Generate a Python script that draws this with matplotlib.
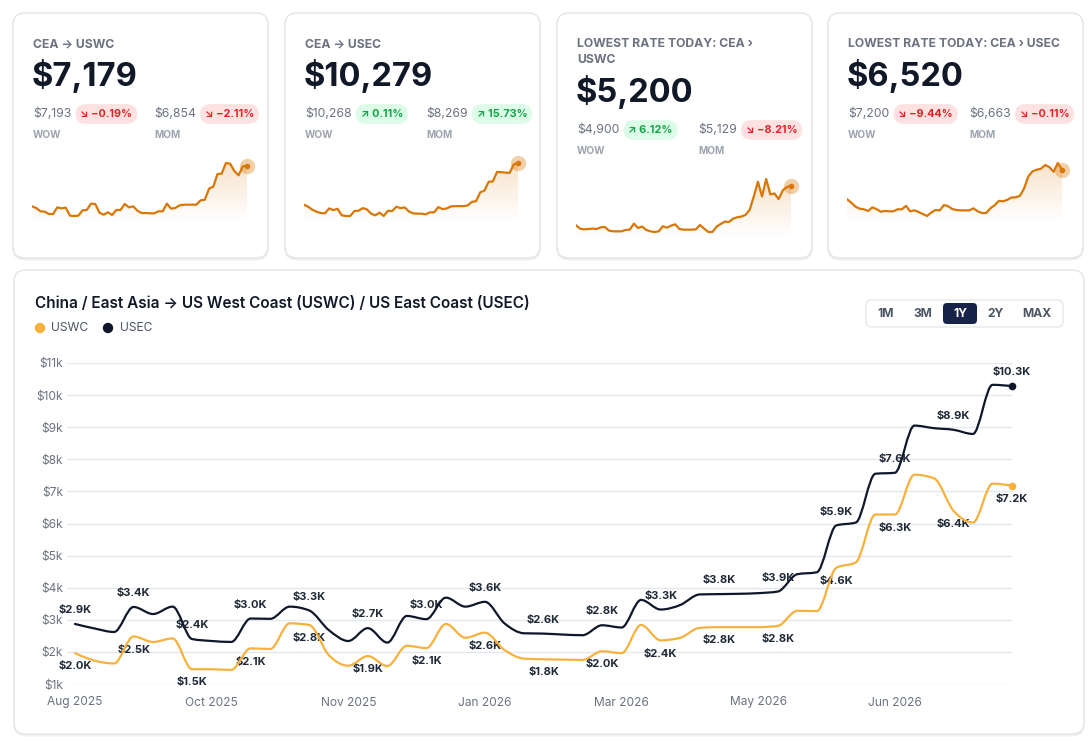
import matplotlib
matplotlib.use("Agg")
import matplotlib.pyplot as plt
import numpy as np
from matplotlib.patches import FancyBboxPatch, PathPatch, Circle
from matplotlib.path import Path
from matplotlib.colors import to_rgb

plt.rcParams["font.family"] = ["Inter", "DejaVu Sans"]

W, H = 1090, 753

# ---- KPI cards ----
card_titles = ["CEA → USWC", "CEA → USEC", "LOWEST RATE TODAY: CEA ›\nUSWC", "LOWEST RATE TODAY: CEA › USEC"]
card_values = [7179, 10279, 5200, 6520]
wow_prev = [7193, 10268, 4900, 7200]
wow_pct = [-0.19, 0.11, 6.12, -9.44]
mom_prev = [6854, 8269, 5129, 6663]
mom_pct = [-2.11, 15.73, -8.21, -0.11]

spark_uswc = [2550, 2360, 1980, 1940, 1670, 1670, 2430, 2320, 2400, 1480, 1440, 1480, 2090, 2130,
              2860, 2820, 1820, 1590, 1860, 1560, 2130, 2130, 2820, 2430, 2550, 2050, 1780, 1780,
              1750, 1750, 1980, 1980, 2860, 2280, 2360, 2660, 2740, 2740, 2740, 2740, 3240, 3310,
              4580, 4810, 6260, 6300, 7520, 7440, 6600, 6110, 7140, 7179]
spark_usec = [3990, 3690, 3240, 2940, 2750, 2700, 3440, 3190, 3390, 2400, 2300, 2300, 3040, 3090,
              3490, 3290, 2650, 2400, 2800, 2300, 3090, 3040, 3690, 3490, 3590, 2990, 2700, 2650,
              2650, 2550, 2850, 2850, 3640, 3340, 3440, 3740, 3790, 3790, 3790, 3890, 4430, 4530,
              5870, 6120, 7450, 7500, 8940, 8890, 8840, 8790, 10080, 10279]
spark_low_uswc = [2250, 2000, 1950, 1975, 2000, 1975, 2100, 2125, 1850, 1800, 1800, 1800, 1900, 1925,
                  2375, 2050, 2150, 1900, 1800, 1750, 1800, 2175, 2075, 2225, 2325, 1975, 1925, 1925,
                  1925, 1950, 2275, 2000, 1750, 1750, 2150, 2350, 2525, 2500, 2750, 2850, 2900, 3025,
                  3400, 4400, 5500, 4400, 5700, 4550, 4625, 4200, 4850, 5100, 5200]
spark_low_usec = [4060, 3780, 3440, 3270, 3220, 3080, 3380, 3240, 3020, 3080, 3050, 3050, 3220, 3220,
                  3500, 3050, 3130, 2990, 2820, 2660, 2960, 3160, 3130, 3580, 3470, 3240, 3160, 3130,
                  3130, 3130, 3300, 3050, 2910, 2910, 3300, 3550, 3920, 3890, 4000, 4200, 4220, 4340,
                  4950, 5960, 6380, 6520, 6600, 6910, 6740, 6350, 7080, 6520]
sparks = [spark_uswc, spark_usec, spark_low_uswc, spark_low_usec]

# ---- main chart (weekly points) ----
chart_title = "China / East Asia → US West Coast (USWC) / US East Coast (USEC)"
uswc = [1960, 1730, 1640, 2480, 2310, 2420, 1460, 1460, 1440, 2110, 2090, 2890, 2840, 1900,
        1570, 1870, 1560, 2190, 2120, 2870, 2440, 2600, 2060, 1790, 1770, 1760, 1750, 2020,
        1960, 2840, 2360, 2440, 2750, 2770, 2770, 2770, 2810, 3280, 3270, 4620, 4790, 6280,
        6280, 7520, 7410, 6400, 6030, 7240, 7179]
usec = [2870, 2730, 2620, 3400, 3180, 3410, 2400, 2340, 2310, 3040, 3030, 3410, 3290, 2680,
        2340, 2740, 2290, 3120, 3020, 3690, 3410, 3560, 2890, 2580, 2570, 2540, 2520, 2830,
        2760, 3620, 3320, 3460, 3790, 3800, 3810, 3830, 3880, 4420, 4480, 5940, 6030, 7550,
        7580, 9050, 8970, 8920, 8790, 10320, 10279]
tick_idx = [0, 7, 14, 21, 28, 35, 42]
tick_labels = ["Aug 2025", "Oct 2025", "Nov 2025", "Jan 2026", "Mar 2026", "May 2026", "Jun 2026"]
y_ticks = list(range(1000, 12000, 1000))
ranges = ["1M", "3M", "1Y", "2Y", "MAX"]
active_range = "1Y"

C_USWC = "#f8b13c"
C_USEC = "#0f172a"
C_SPARK = "#d97706"
GRAY = "#6b7280"


def px_axes(fig, x0, y0, x1, y1, **kw):
    return fig.add_axes([x0 / W, 1 - y1 / H, (x1 - x0) / W, (y1 - y0) / H], **kw)


def rounded(ax, x0, y0, x1, y1, r, fc, ec="none", lw=1, z=1, alpha=1):
    p = FancyBboxPatch((x0, y0), x1 - x0, y1 - y0, boxstyle=f"round,pad=0,rounding_size={r}",
                       fc=fc, ec=ec, lw=lw, zorder=z, alpha=alpha)
    ax.add_patch(p)
    return p


def card(ax, x0, y0, x1, y1):
    rounded(ax, x0 - 1, y0 + 1, x1 + 1, y1 + 2.5, 13, "#000000", z=0.5, alpha=0.06)
    rounded(ax, x0, y0, x1, y1, 12, "white", ec="#e3e5e9", lw=1, z=1)


def monotone_path(xs, ys):
    # d3-style monotone-x cubic, expressed as matplotlib Bezier segments
    xs = np.asarray(xs, float)
    ys = np.asarray(ys, float)
    h = np.diff(xs)
    s = np.diff(ys) / h
    n = len(xs)
    m = np.zeros(n)
    for i in range(1, n - 1):
        s0, s1 = s[i - 1], s[i]
        p = (s0 * h[i] + s1 * h[i - 1]) / (h[i - 1] + h[i])
        m[i] = (np.sign(s0) + np.sign(s1)) * min(abs(s0), abs(s1), 0.5 * abs(p))
    m[0] = (3 * s[0] - m[1]) / 2
    m[-1] = (3 * s[-1] - m[-2]) / 2
    verts = [(xs[0], ys[0])]
    codes = [Path.MOVETO]
    for i in range(n - 1):
        d = h[i] / 3
        verts += [(xs[i] + d, ys[i] + m[i] * d), (xs[i + 1] - d, ys[i + 1] - m[i + 1] * d),
                  (xs[i + 1], ys[i + 1])]
        codes += [Path.CURVE4] * 3
    return Path(verts, codes)


def badge_text(p):
    arrow = "↗" if p > 0 else "↘"
    sign = "−" if p < 0 else ""
    return f"{arrow} {sign}{abs(p):.2f}%"


fig = plt.figure(figsize=(W / 100, H / 100), dpi=100)
fig.patch.set_facecolor("white")
bg = fig.add_axes([0, 0, 1, 1], zorder=0)
bg.set_xlim(0, W)
bg.set_ylim(H, 0)
bg.axis("off")
renderer = fig.canvas.get_renderer()

card_lefts = [13, 285, 557, 828]
spark_boxes = [(32, 247, 163, 216), (304, 518, 163, 216), (576, 791, 179, 232), (847, 1062, 163, 216)]

for k, left in enumerate(card_lefts):
    card(bg, left, 13, left + 255, 258)
    tx = left + 20
    lines = card_titles[k].split("\n")
    for j, line in enumerate(lines):
        bg.text(tx, 47 + 16 * j, line, fontsize=8.8, fontweight="bold", color=GRAY, va="baseline")
    dy = 16 * (len(lines) - 1)
    bg.text(tx - 1, 86 + dy, f"${card_values[k]:,}", fontsize=23.5, fontweight="bold",
            color="#111827", va="baseline")
    cols = [(tx, wow_prev[k], wow_pct[k], "WOW"), (tx + 121, mom_prev[k], mom_pct[k], "MOM")]
    for cx, prev, pct, lab in cols:
        t = bg.text(cx, 117 + dy, f"${prev:,}", fontsize=8.8, color=GRAY, va="baseline")
        right = t.get_window_extent(renderer).x1
        up = pct > 0
        bg.text(right + 9, 117 + dy, badge_text(pct), fontsize=7.8, fontweight="bold",
                color="#16a34a" if up else "#dc2626", va="baseline",
                bbox=dict(boxstyle="round,pad=0.45,rounding_size=0.95",
                          fc="#dcfce7" if up else "#fee2e2", ec="none"))
        bg.text(cx, 138 + dy, lab, fontsize=7.2, fontweight="bold", color="#9ca3af", va="baseline")

    # sparkline
    x0, x1, ytop, ybot = spark_boxes[k]
    vals = np.array(sparks[k], float)
    vmin, vmax = vals.min(), vals.max()
    kk = (vmax - vmin) / (ybot - ytop)
    sax = px_axes(fig, x0, ytop - 4, x1, ybot + 6, zorder=2)
    sax.patch.set_alpha(0)
    sax.axis("off")
    xs = np.arange(len(vals))
    lo = vmin - 6 * kk
    hi = vmax + 4 * kk
    sax.set_xlim(0, len(vals) - 1)
    sax.set_ylim(lo, hi)
    poly = sax.fill_between(xs, vals, lo, facecolor="none", edgecolor="none")
    grad = np.zeros((100, 1, 4))
    grad[..., :3] = to_rgb(C_SPARK)
    grad[:, 0, 3] = np.linspace(0.22, 0.0, 100)
    im = sax.imshow(grad, extent=[0, len(vals) - 1, lo, hi], aspect="auto", origin="upper", zorder=1)
    im.set_clip_path(poly.get_paths()[0], transform=sax.transData)
    sax.plot(xs, vals, color=C_SPARK, lw=1.6, zorder=3, solid_joinstyle="round")
    sax.plot(xs[-1], vals[-1], "o", ms=11, color=C_SPARK, alpha=0.35, mec="none", zorder=4, clip_on=False)
    sax.plot(xs[-1], vals[-1], "o", ms=4, color=C_SPARK, mec="none", zorder=5, clip_on=False)

# ---- main card ----
card(bg, 14, 270, 1084, 734)
bg.text(35, 308, chart_title, fontsize=11, fontweight="semibold", color="#111827", va="baseline")
bg.add_patch(Circle((40, 328), 4.5, color=C_USWC, zorder=3))
bg.text(51, 328, "USWC", fontsize=8.7, color="#4b5563", va="center")
bg.add_patch(Circle((108, 328), 4.5, color=C_USEC, zorder=3))
bg.text(120, 328, "USEC", fontsize=8.7, color="#4b5563", va="center")

rounded(bg, 866, 300, 1063, 327, 6, "white", ec="#e5e7eb", lw=1, z=2)
btn_x = [886, 923, 960, 995, 1037]
for bx, lab in zip(btn_x, ranges):
    if lab == active_range:
        rounded(bg, 943, 303, 977, 324, 4, "#18234a", z=3)
        bg.text(bx, 314, lab, fontsize=8.7, fontweight="bold", color="white", ha="center", va="center", zorder=4)
    else:
        bg.text(bx, 314, lab, fontsize=8.7, fontweight="bold", color="#4b5563", ha="center", va="center", zorder=4)

ax = px_axes(fig, 67, 363, 1012, 684, zorder=2)
ax.patch.set_alpha(0)
ax.set_xlim(-(75 - 67) / 19.52, len(usec) - 1)
ax.set_ylim(1000, 11000)
for s in ax.spines.values():
    s.set_visible(False)
ax.set_yticks(y_ticks)
ax.set_yticklabels([f"${v // 1000}k" for v in y_ticks])
ax.set_xticks(tick_idx)
ax.set_xticklabels(tick_labels)
ax.tick_params(axis="both", length=0, colors=GRAY, labelsize=8.6)
ax.tick_params(axis="y", pad=3)
ax.tick_params(axis="x", pad=9)
ax.yaxis.grid(True, color="#e5e7eb", lw=1)
ax.set_axisbelow(True)

xi = np.arange(len(usec))
for series, color, off in [(uswc, C_USWC, -9.5), (usec, C_USEC, 10)]:
    ax.add_patch(PathPatch(monotone_path(xi, series), fill=False, edgecolor=color, lw=1.6,
                           zorder=3, capstyle="round", joinstyle="round"))
    ax.plot(xi[-1], series[-1], "o", ms=5.5, color=color, mec="none", zorder=4, clip_on=False)
    for i in range(0, len(series), 3):
        ax.annotate(f"${series[i] / 1000:.1f}K", (i, series[i]), xytext=(0, off),
                    textcoords="offset points", ha="center", va="center", fontsize=8,
                    fontweight="bold", color="#1f2937", zorder=2, annotation_clip=False)

fig.savefig("out.png", dpi=100, facecolor="white")
